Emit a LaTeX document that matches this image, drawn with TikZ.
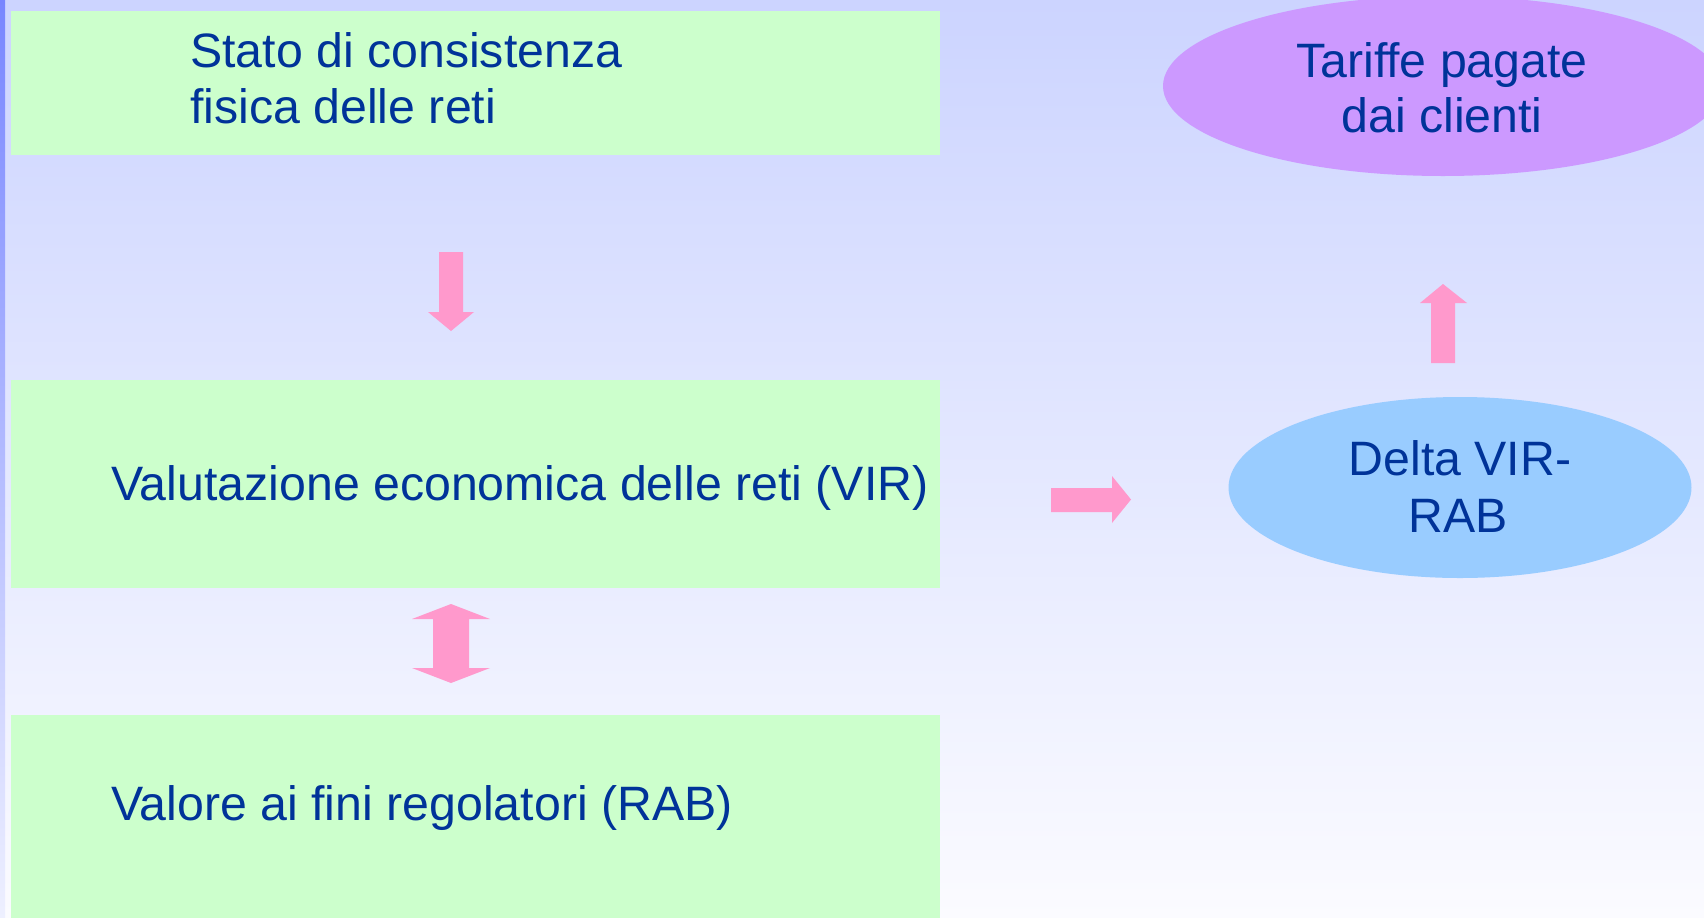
\documentclass[tikz,border=0pt]{standalone}
\usepackage{fontspec}
\setmainfont[Ligatures=CommonOff]{Liberation Sans}
\usetikzlibrary{shapes.geometric}
\definecolor{bgtop}{HTML}{CCD4FF}
\definecolor{bgbot}{HTML}{FBFBFF}
\definecolor{stripetop}{HTML}{7886FF}
\definecolor{stripebot}{HTML}{EEF0FF}
\definecolor{boxgreen}{HTML}{CCFFCC}
\definecolor{txtblue}{HTML}{003399}
\definecolor{arrowpink}{HTML}{FF99CC}
\definecolor{ellblue}{HTML}{99CCFF}
\definecolor{ellpurple}{HTML}{CC99FF}
\tikzset{
  greenbox/.style={fill=boxgreen, draw=none},
  lbl/.style={text=txtblue, font=\fontsize{36.2}{42}\selectfont, inner sep=0pt},
  blockarrow/.style={fill=arrowpink, draw=none},
}
\begin{document}
\begin{tikzpicture}[x=0.75pt,y=-0.75pt]
\useasboundingbox (0,0) rectangle (1704,918);
% background
\shade[top color=bgtop, bottom color=bgbot] (0,0) rectangle (1704,918);
\shade[top color=stripetop, bottom color=stripebot] (0,0) rectangle (5,918);
% green boxes
\path[greenbox] (11,11) rectangle (940,155);
\path[greenbox] (11,380) rectangle (940,588);
\path[greenbox] (11,715) rectangle (940,918);
% texts in boxes
\node[lbl, anchor=base west] (t1a) at (190,67) {Stato di consistenza};
\node[lbl, anchor=base west] (t1b) at (190,123) {fisica delle reti};
\node[lbl, anchor=base west] (t2) at (111,500) {Valutazione economica delle reti (VIR)};
\node[lbl, anchor=base west] (t3) at (111,820) {Valore ai fini regolatori (RAB)};
% ellipses
\fill[ellpurple] (1443,86) ellipse [x radius=280, y radius=90];
\node[lbl, anchor=base] (e1a) at (1442,77) {Tariffe pagate};
\node[lbl, anchor=base] (e1b) at (1442,132) {dai clienti};
\fill[ellblue] (1460,487.5) ellipse [x radius=231.5, y radius=90.5];
\node[lbl, anchor=base] (e2a) at (1460,475) {Delta VIR-};
\node[lbl, anchor=base] (e2b) at (1458,532) {RAB};
% block arrows
\path[blockarrow] (439,252) -- (463,252) -- (463,312) -- (474,312) -- (451,331) -- (428,312) -- (439,312) -- cycle;
\path[blockarrow] (451,604) -- (490,619) -- (469,619) -- (469,668) -- (490,668) -- (451,683) -- (412,668) -- (433,668) -- (433,619) -- (412,619) -- cycle;
\path[blockarrow] (1051,488) -- (1112,488) -- (1112,476) -- (1131,499.5) -- (1112,523) -- (1112,512) -- (1051,512) -- cycle;
\path[blockarrow] (1443,284) -- (1467,303) -- (1455,303) -- (1455,363) -- (1431,363) -- (1431,303) -- (1420,303) -- cycle;
\end{tikzpicture}
\end{document}
